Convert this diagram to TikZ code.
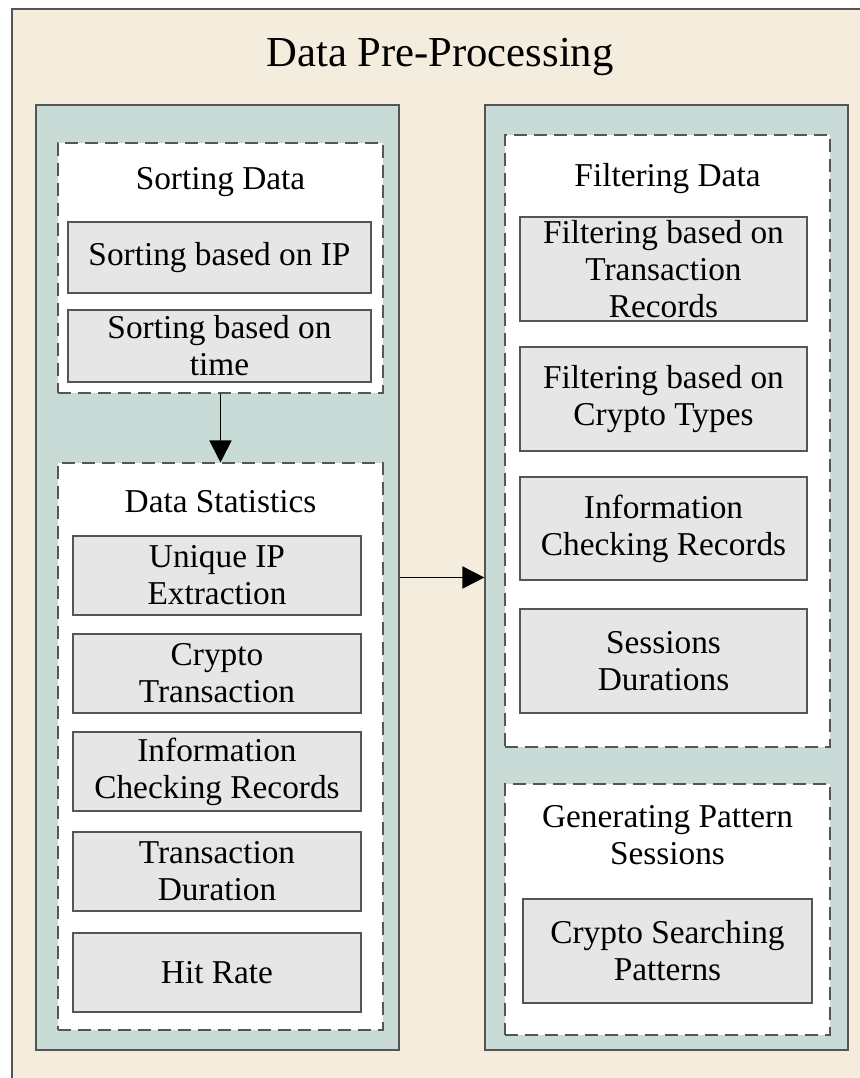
\documentclass[tikz,border=0pt]{standalone}
\usepackage{fontspec}
\setmainfont{Liberation Serif}
\usetikzlibrary{arrows.meta,fit}

\definecolor{paper}{HTML}{F4ECDC}
\definecolor{panelfill}{HTML}{C9DBD6}
\definecolor{boxfill}{HTML}{E7E6E6}
\definecolor{edgegray}{HTML}{555555}

\tikzset{
  panel/.style={draw=edgegray, line width=0.9pt, fill=panelfill, inner sep=0pt},
  group/.style={draw=edgegray, line width=0.8pt, dash pattern=on 10pt off 5pt,
                fill=white, inner sep=0pt},
  task/.style={draw=edgegray, line width=0.8pt, fill=boxfill, inner sep=0pt},
  tasktext/.style={align=center, inner sep=0pt, font=\fontsize{25}{27.8}\selectfont},
  heading/.style={align=center, font=\fontsize{25}{27.8}\selectfont},
  flow/.style={line width=1.4pt, -{Triangle[length=16.5pt,width=16.5pt]}},
}

\begin{document}
\begin{tikzpicture}[x=0.75pt, y=-0.75pt]
  \useasboundingbox (0,0) rectangle (860,1078);
  \begin{scope}
    \clip (0,0) rectangle (860,1078);
    \draw[draw=edgegray, line width=1pt, fill=paper] (12,9) rectangle (880,1100);
  \end{scope}

  \node[font=\fontsize{32}{36}\selectfont] (title) at (440,57) {Data Pre-Processing};

  % left column
  \node[panel, fit={(36,105)(399,1050)}] (lpanel) {};
  \node[group, fit={(58,143)(383,393)}] (sort) {};
  \node[heading] (sorttitle) at (220.5,182) {Sorting Data};
  \node[task, fit={(68,222)(371,293)}] (sortip) {};
  \node[tasktext] at (sortip.center) {Sorting based on IP};
  \node[task, fit={(68,310)(371,382)}] (sorttime) {};
  \node[tasktext] at (sorttime.center) {Sorting based on\\time};

  \node[group, fit={(58,463)(383,1030)}] (stats) {};
  \node[heading] (statstitle) at (220.5,502) {Data Statistics};
  \node[task, fit={(73,536)(361,615)}] (uniq) {};
  \node[tasktext] at (uniq.center) {Unique IP\\Extraction};
  \node[task, fit={(73,634)(361,713)}] (ctrans) {};
  \node[tasktext] at (ctrans.center) {Crypto\\Transaction};
  \node[task, fit={(73,732)(361,811)}] (icr) {};
  \node[tasktext] at (icr.center) {Information\\Checking Records};
  \node[task, fit={(73,832)(361,911)}] (tdur) {};
  \node[tasktext] at (tdur.center) {Transaction\\Duration};
  \node[task, fit={(73,933)(361,1012)}] (hit) {};
  \node[tasktext] at (hit.center) {Hit Rate};

  % right column
  \node[panel, fit={(485,105)(848,1050)}] (rpanel) {};
  \node[group, fit={(505,135)(830,747)}] (filter) {};
  \node[heading] (filtertitle) at (667.5,179) {Filtering Data};
  \node[task, fit={(520,217)(807,321)}] (ftrans) {};
  \node[tasktext] at (ftrans.center) {Filtering based on\\Transaction\\Records};
  \node[task, fit={(520,347)(807,451)}] (fcrypto) {};
  \node[tasktext] at (fcrypto.center) {Filtering based on\\Crypto Types};
  \node[task, fit={(520,477)(807,580)}] (finfo) {};
  \node[tasktext] at (finfo.center) {Information\\Checking Records};
  \node[task, fit={(520,609)(807,713)}] (fsess) {};
  \node[tasktext] at (fsess.center) {Sessions\\Durations};

  \node[group, fit={(505,784)(830,1035)}] (gen) {};
  \node[heading] (gentitle) at (667.5,835) {Generating Pattern\\Sessions};
  \node[task, fit={(523,899)(812,1003)}] (csp) {};
  \node[tasktext] at (csp.center) {Crypto Searching\\Patterns};

  % connectors
  \draw[flow] (sort.south) -- (stats.north);
  \draw[flow] (lpanel.east) -- (rpanel.west);
\end{tikzpicture}
\end{document}
